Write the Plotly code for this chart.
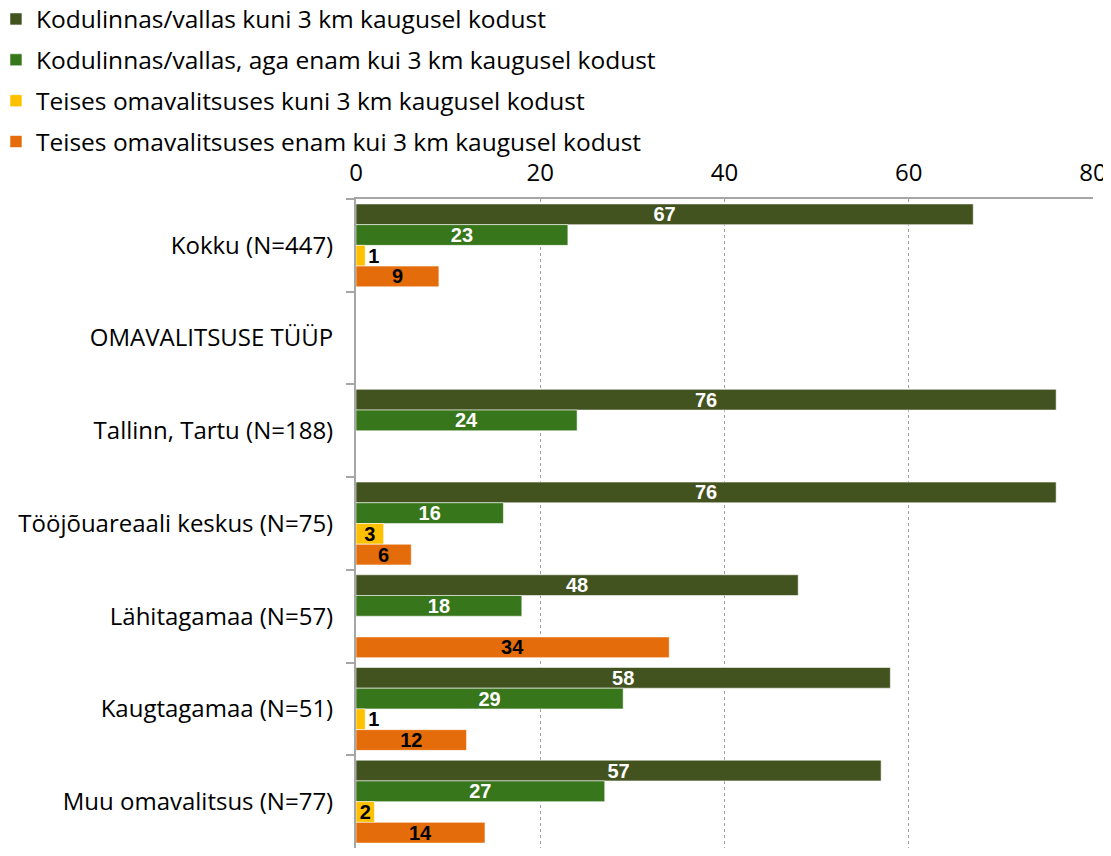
import plotly.graph_objects as go

categories = ["Kokku (N=447)", "OMAVALITSUSE TÜÜP", "Tallinn, Tartu (N=188)",
              "Tööjõuareaali keskus (N=75)", "Lähitagamaa (N=57)",
              "Kaugtagamaa (N=51)", "Muu omavalitsus (N=77)"]

series_names = ["Kodulinnas/vallas kuni 3 km kaugusel kodust",
                "Kodulinnas/vallas, aga enam kui 3 km kaugusel kodust",
                "Teises omavalitsuses kuni 3 km kaugusel kodust",
                "Teises omavalitsuses enam kui 3 km kaugusel kodust"]

home_near = [67, None, 76, 76, 48, 58, 57]
home_far = [23, None, 24, 16, 18, 29, 27]
other_near = [1, None, None, 3, None, 1, 2]
other_far = [9, None, None, 6, 34, 12, 14]

colors = ["#43531F", "#37761A", "#FFC000", "#E46C0A"]
text_colors = ["white", "white", "black", "black"]
lab_font = "Liberation Sans, Arial"

fig = go.Figure()
for i, (name, vals) in enumerate(zip(series_names, [home_near, home_far, other_near, other_far])):
    fig.add_trace(go.Bar(
        y=categories, x=vals, name=name, orientation="h",
        marker=dict(color=colors[i], line=dict(color="rgba(255,255,255,0.55)", width=1)),
        text=[None if v is None else str(v) for v in vals],
        texttemplate="<b>%{text}</b>",
        textposition="auto", insidetextanchor="middle", textangle=0,
        insidetextfont=dict(family=lab_font, size=20, color=text_colors[i]),
        outsidetextfont=dict(family=lab_font, size=20, color="black"),
        constraintext="none", cliponaxis=False,
        legendgroup=f"g{i}",
        hoverinfo="skip",
    ))

fig.update_layout(
    width=1103, height=840,
    barmode="group", bargap=0.106, bargroupgap=0,
    plot_bgcolor="white", paper_bgcolor="white",
    margin=dict(l=348, r=18, t=191, b=0, autoexpand=False),
    font=dict(family="Open Sans", size=24, color="black"),
    legend=dict(xref="paper", yref="paper", x=-0.4885, y=1.312,
                xanchor="left", yanchor="top", tracegroupgap=6,
                font=dict(family="Open Sans", size=24.5), itemwidth=30,
                bgcolor="rgba(0,0,0,0)", orientation="v"),
    xaxis=dict(side="top", range=[0, 80], dtick=20, showgrid=True,
               gridcolor="#a0a0a0", griddash="dot", gridwidth=1,
               showline=True, linecolor="#a6a6a6", linewidth=2,
               ticks="", tickfont=dict(size=24), zeroline=False,
               ticklabelstandoff=6),
    yaxis=dict(autorange="reversed", showline=True, linecolor="#a6a6a6", linewidth=2,
               ticks="outside", tickson="boundaries", ticklen=8, tickcolor="#a6a6a6",
               tickwidth=2, tickfont=dict(size=24), showgrid=False,
               ticklabelstandoff=16),
)

fig.write_html("out.html")
